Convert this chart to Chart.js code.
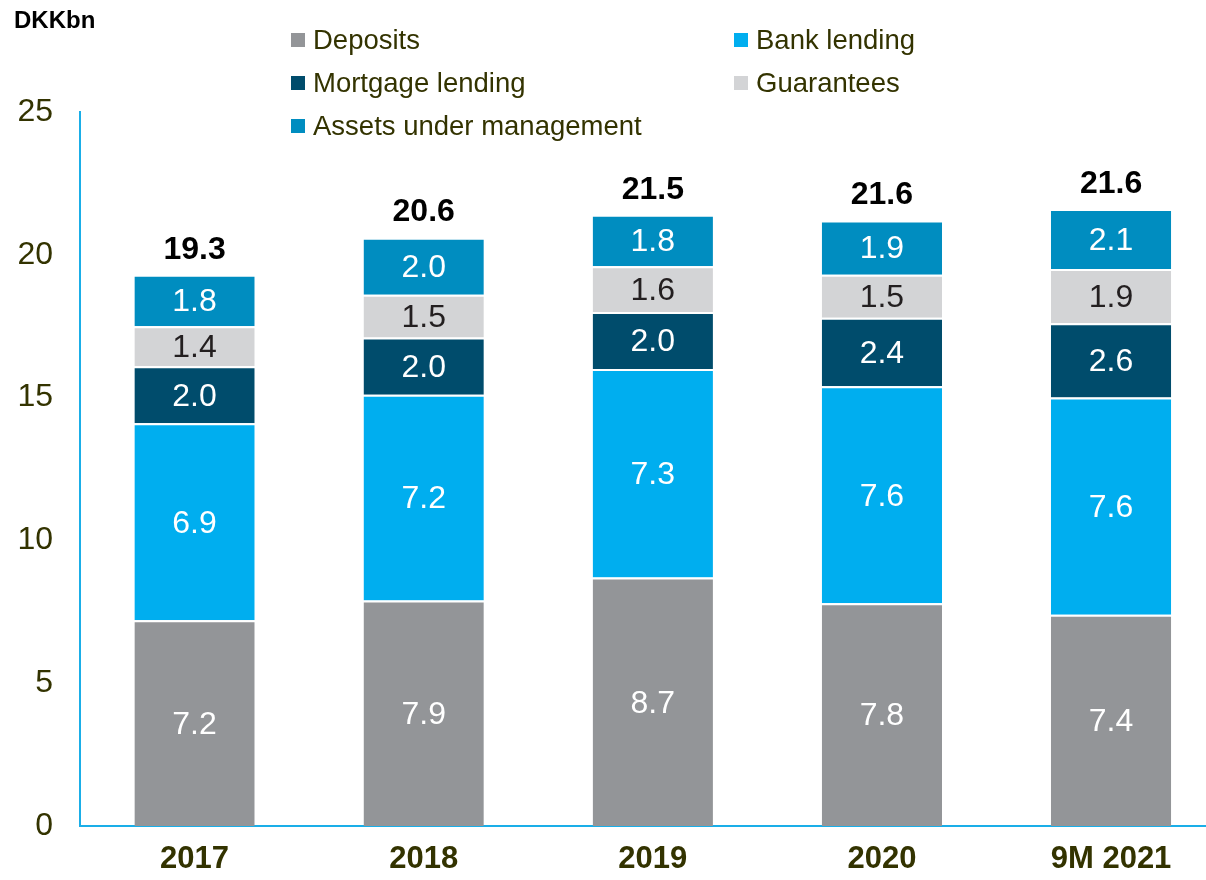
<!DOCTYPE html>
<html>
<head>
<meta charset="utf-8">
<script src="https://cdn.jsdelivr.net/npm/chart.js@4.4.1/dist/chart.umd.min.js"></script>
<style>
  html, body { margin: 0; padding: 0; background: #fff; overflow: hidden; }
  #wrap { position: absolute; left: 0; top: 0; }
</style>
</head>
<body>
<div id="wrap"><canvas id="myBarChart" width="1240" height="880"></canvas></div>
<script>
// categories and values (DKKbn)
const years = ["2017", "2018", "2019", "2020", "9M 2021"];
const deposits = [7.2, 7.9, 8.7, 7.8, 7.4];
const bankLending = [6.9, 7.2, 7.3, 7.6, 7.6];
const mortgageLending = [2.0, 2.0, 2.0, 2.4, 2.6];
const guarantees = [1.4, 1.5, 1.6, 1.5, 1.9];
const assetsUnderMgmt = [1.8, 2.0, 1.8, 1.9, 2.1];
const totals = [19.3, 20.6, 21.5, 21.6, 21.6];
const yTicks = [0, 5, 10, 15, 20, 25];

const olive = "#333300";
Chart.defaults.font.family = "'Liberation Sans', Arial, sans-serif";

function makeSet(label, data, color, labelColor) {
    return {
        label: label,
        data: data,
        backgroundColor: color,
        borderColor: "#ffffff",
        borderWidth: { top: 2, left: 0, right: 0, bottom: 0 },
        borderSkipped: false,
        labelColor: labelColor
    };
}

// value labels inside segments + totals on top
const valueLabels = {
    id: "valueLabels",
    afterDatasetsDraw(chart) {
        const ctx = chart.ctx;
        ctx.save();
        ctx.textAlign = "center";
        ctx.textBaseline = "middle";
        ctx.font = "32px 'Liberation Sans', Arial, sans-serif";
        chart.data.datasets.forEach((ds, i) => {
            const meta = chart.getDatasetMeta(i);
            meta.data.forEach((bar, j) => {
                ctx.fillStyle = ds.labelColor;
                ctx.fillText(ds.data[j].toFixed(1), bar.x, (bar.y + bar.base) / 2 + 2);
            });
        });
        const last = chart.getDatasetMeta(chart.data.datasets.length - 1);
        ctx.font = "bold 32px 'Liberation Sans', Arial, sans-serif";
        ctx.fillStyle = "#000";
        last.data.forEach((bar, j) => {
            ctx.fillText(totals[j].toFixed(1), bar.x, bar.y - 25);
        });
        ctx.restore();
    }
};

// two-column legend and unit label
const gridLegend = {
    id: "gridLegend",
    afterDraw(chart) {
        const ctx = chart.ctx;
        ctx.save();
        ctx.textBaseline = "middle";
        ctx.textAlign = "left";
        ctx.font = "bold 24px 'Liberation Sans', Arial, sans-serif";
        ctx.fillStyle = "#000";
        ctx.fillText("DKKbn", 14, 21);
        ctx.font = "27.5px 'Liberation Sans', Arial, sans-serif";
        chart.data.datasets.forEach((ds, i) => {
            const col = i % 2, row = Math.floor(i / 2);
            const x = 291 + col * 443;
            const y = 40 + row * 43;
            ctx.fillStyle = ds.backgroundColor;
            ctx.fillRect(x, y - 7, 14, 14);
            ctx.fillStyle = olive;
            ctx.fillText(ds.label, x + 22, y + 1);
        });
        ctx.restore();
    }
};

new Chart("myBarChart", {
    type: "bar",
    data: {
        labels: years,
        datasets: [
            makeSet("Deposits", deposits, "#939598", "#ffffff"),
            makeSet("Bank lending", bankLending, "#00AEEF", "#ffffff"),
            makeSet("Mortgage lending", mortgageLending, "#004C6C", "#ffffff"),
            makeSet("Guarantees", guarantees, "#D3D4D6", "#231F20"),
            makeSet("Assets under management", assetsUnderMgmt, "#008DC0", "#ffffff")
        ]
    },
    plugins: [valueLabels, gridLegend],
    options: {
        responsive: false,
        animation: false,
        layout: { padding: { left: 0, top: 112, right: 14.4, bottom: 0 } },
        plugins: {
            legend: { display: false },
            tooltip: { enabled: false }
        },
        datasets: {
            bar: { barPercentage: 1, categoryPercentage: 0.525 }
        },
        scales: {
            x: {
                stacked: true,
                grid: { display: false, drawTicks: false },
                border: { color: "#1AAEE8", width: 2 },
                ticks: {
                    color: olive,
                    font: { size: 31, weight: "bold" },
                    padding: 15
                },
                afterFit(scale) { scale.height = 54; }
            },
            y: {
                stacked: true,
                min: 0,
                max: 25,
                grid: { display: false, drawTicks: false },
                border: { color: "#1AAEE8", width: 2 },
                afterBuildTicks(scale) {
                    scale.ticks = yTicks.map(v => ({ value: v }));
                },
                ticks: {
                    color: olive,
                    font: { size: 32 },
                    padding: 27
                },
                afterFit(scale) { scale.width = 80; }
            }
        }
    }
});
</script>
</body>
</html>
